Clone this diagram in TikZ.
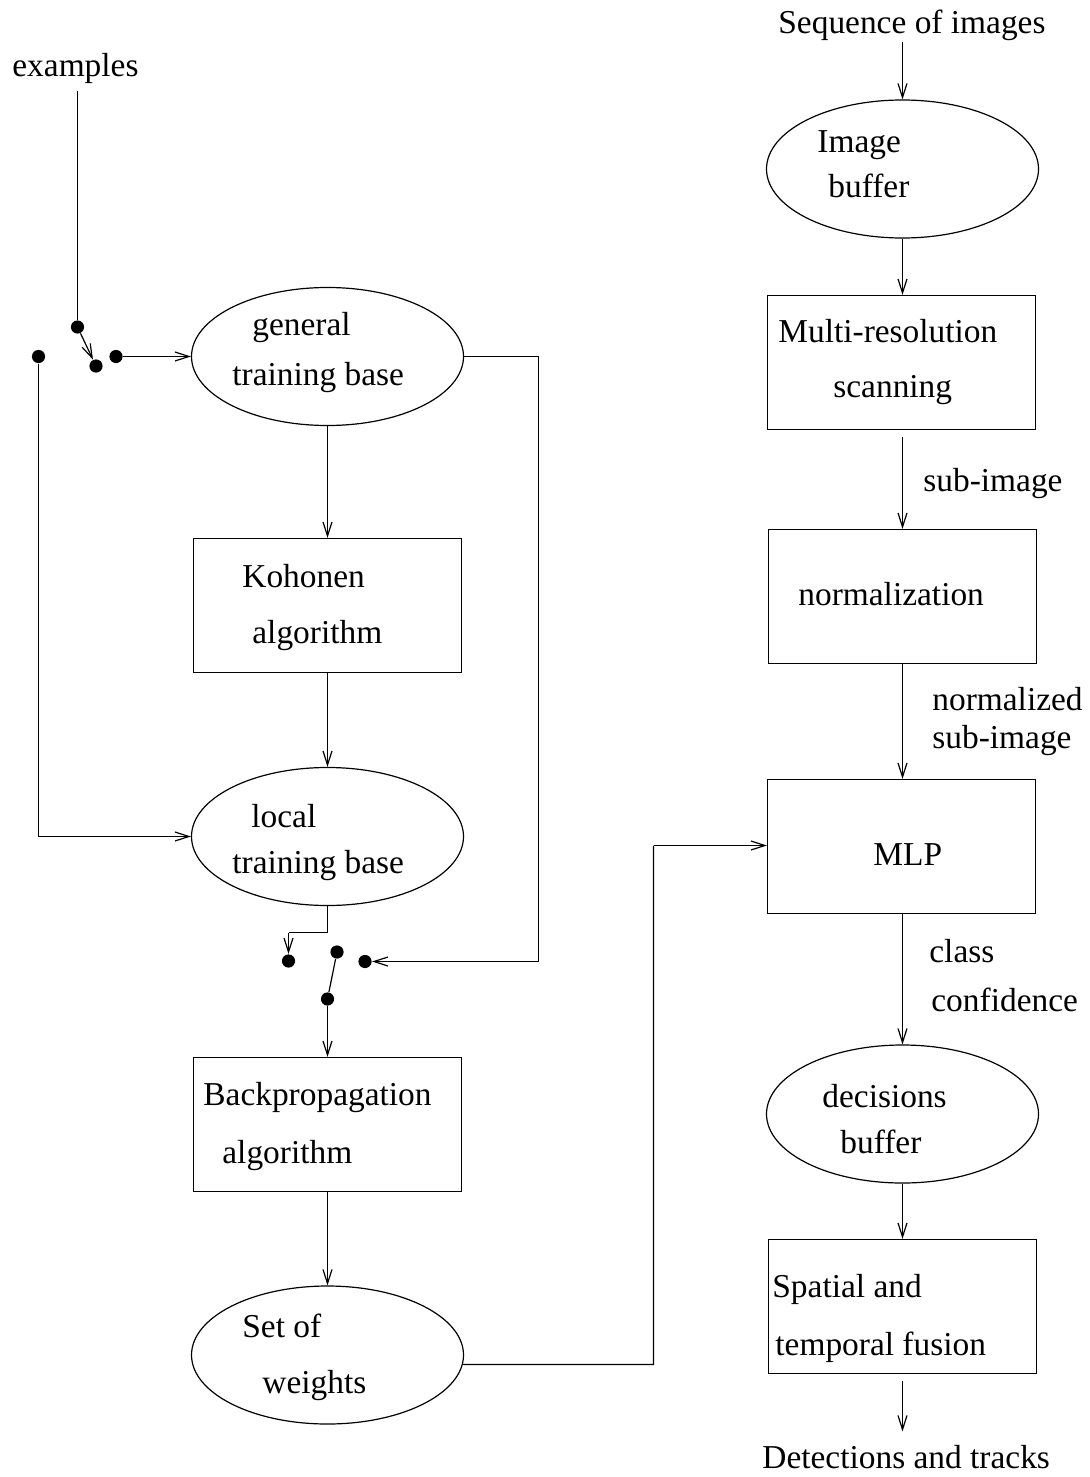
\documentclass[tikz,border=0pt]{standalone}
\usepackage{fontspec}
\setmainfont{Liberation Serif}
\usetikzlibrary{shapes.geometric,arrows.meta}
\tikzset{
  txt/.style={anchor=base west, inner sep=0pt, font=\fontsize{16.7}{20}\selectfont},
  boxnode/.style={draw, line width=0.6pt, rectangle, minimum width=134pt, minimum height=67pt, inner sep=0pt},
  ellnode/.style={draw, line width=0.6pt, ellipse, minimum width=136pt, minimum height=69pt, inner sep=0pt},
  dotnode/.style={circle, fill=black, minimum size=6.6pt, inner sep=0pt},
  conn/.style={line width=0.6pt},
  arr/.style={line width=0.6pt, -{Straight Barb[length=7pt,width=4.5pt]}},
}
\begin{document}
\begin{tikzpicture}[x=0.5pt,y=-0.5pt]
\useasboundingbox (0,0) rectangle (1090,1477);

% ---------- left column ----------
\node[txt] (ex) at (12,77) {examples};
\node[dotnode] (d1) at (77.5,327) {};
\node[dotnode] (d2) at (96,366) {};
\node[dotnode] (d3) at (116,356.5) {};
\node[dotnode] (d4) at (38.5,356.5) {};

\node[ellnode] (gtb) at (327.5,356.5) {};
\node[txt] (gtb1) at (252,335) {general};
\node[txt] (gtb2) at (232,385) {training base};

\node[boxnode] (koh) at (327.5,605.5) {};
\node[txt] (koh1) at (242,587) {Kohonen};
\node[txt] (koh2) at (252,643) {algorithm};

\node[ellnode] (ltb) at (327.5,836.5) {};
\node[txt] (ltb1) at (251,827) {local};
\node[txt] (ltb2) at (232,873) {training base};

\node[dotnode] (d5) at (365,961.5) {};
\node[dotnode] (d6) at (288.5,961) {};
\node[dotnode] (d7) at (337,952) {};
\node[dotnode] (d8) at (327.5,999) {};

\node[boxnode] (bp) at (327.5,1124.5) {};
\node[txt] (bp1) at (203,1105) {Backpropagation};
\node[txt] (bp2) at (222,1163) {algorithm};

\node[ellnode] (sw) at (327.5,1355) {};
\node[txt] (sw1) at (242,1337) {Set of};
\node[txt] (sw2) at (262,1393) {weights};

\coordinate (c1) at (538.5,356.5);
\coordinate (c2) at (538.5,961.5);
\coordinate (c3) at (327.5,932.5);
\coordinate (c4) at (288.5,932.5);
\coordinate (c5) at (38.5,836.5);
\coordinate (c6) at (653.5,1364.5);
\coordinate (c7) at (653.5,845.5);

\draw[conn] (d1 |- ex.south) ++(0,6) -- (d1);
\draw[arr] (d1) -- (d2);
\draw[arr] (d3) -- (gtb.west);
\draw[conn] (d4) -- (c5);
\draw[arr] (c5) -- (ltb.west);
\draw[conn] (gtb.east) -- (c1) -- (c2);
\draw[arr] (c2) -- (d5);
\draw[arr] (gtb.south) -- (gtb.south |- koh.north);
\draw[arr] (koh.south) -- (koh.south |- ltb.north);
\draw[conn] (ltb.south) -- (c3) -- (c4);
\draw[arr] (c4) -- (d6);
\draw[conn] (d8) -- (d7);
\draw[arr] (d8) -- (d8 |- bp.north);
\draw[arr] (bp.south) -- (bp.south |- sw.north);

% ---------- right column ----------
\node[txt] (seq) at (778,34) {Sequence of images};

\node[ellnode] (ib) at (902.5,169) {};
\node[txt] (ib1) at (817,152) {Image};
\node[txt] (ib2) at (828,198) {buffer};

\node[boxnode] (mr) at (901.5,362.5) {};
\node[txt] (mr1) at (778,342) {Multi-resolution};
\node[txt] (mr2) at (833,397) {scanning};

\node[txt] (lb1) at (923,491) {sub-image};

\node[boxnode] (nm) at (902.5,596.5) {};
\node[txt] (nm1) at (798,605) {normalization};

\node[txt] (lb2) at (932,710) {normalized};
\node[txt] (lb3) at (932,748) {sub-image};

\node[boxnode] (mlp) at (901.5,846.5) {};
\node[txt] (mlp1) at (873,865) {MLP};

\node[txt] (lb4) at (929,962) {class};
\node[txt] (lb5) at (931,1011) {confidence};

\node[ellnode] (db) at (902.5,1114) {};
\node[txt] (db1) at (822,1107) {decisions};
\node[txt] (db2) at (840,1153) {buffer};

\node[boxnode] (sp) at (902.5,1306.5) {};
\node[txt] (sp1) at (772,1297) {Spatial and};
\node[txt] (sp2) at (775,1355) {temporal fusion};

\node[txt] (det) at (762,1468) {Detections and tracks};

\draw[arr] (ib.north |- seq.south) -- (ib.north);
\draw[arr] (ib.south) -- (ib.south |- mr.north);
\draw[arr] ([yshift=-3.5pt]nm.north |- mr.south) -- (nm.north);
\draw[arr] (nm.south) -- (nm.south |- mlp.north);
\draw[arr] (nm.south |- mlp.south) -- (nm.south |- db.north);
\draw[arr] (db.south) -- (db.south |- sp.north);
\draw[arr, shorten >=6.5pt] ([yshift=-3.5pt]sp.south) -- (sp.south |- det.north);

\draw[conn] (sw.-4) -- (c6) -- (c7);
\draw[arr] (c7) -- (mlp.west |- c7);
\end{tikzpicture}
\end{document}
